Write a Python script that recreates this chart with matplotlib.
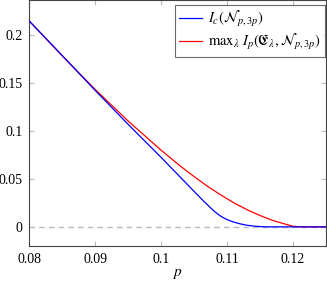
import numpy as np
import matplotlib.pyplot as plt

plt.rcParams['font.family'] = ['Liberation Serif', 'DejaVu Serif']
plt.rcParams['mathtext.fontset'] = 'stix'

# blue curve: coherent information
p_blue = [0.080, 0.085, 0.090, 0.095, 0.100, 0.105, 0.106, 0.1065, 0.107,
          0.1075, 0.108, 0.1085, 0.109, 0.1095, 0.110, 0.111, 0.112, 0.113,
          0.114, 0.115, 0.116, 0.125]
ic_blue = [0.215, 0.179, 0.1425, 0.107, 0.0725, 0.037, 0.030, 0.0265, 0.0232,
           0.0198, 0.0166, 0.0138, 0.0113, 0.0093, 0.0076, 0.0050, 0.0031, 0.0017,
           0.0008, 0.0003, 0.0, 0.0]

# red curve: max over lambda
p_red = [0.080, 0.085, 0.090, 0.095, 0.100, 0.103, 0.105, 0.107, 0.109,
         0.111, 0.113, 0.115, 0.117, 0.119, 0.120, 0.121, 0.125]
ip_red = [0.215, 0.1785, 0.1435, 0.1105, 0.080, 0.063, 0.0525, 0.0425, 0.0335,
          0.0252, 0.018, 0.0118, 0.0065, 0.0025, 0.0006, 0.0, 0.0]

xticks = [0.08, 0.09, 0.1, 0.11, 0.12]
xticklabels = ["0.08", "0.09", "0.1", "0.11", "0.12"]
yticks = [0, 0.05, 0.1, 0.15, 0.2]
yticklabels = ["0", "0.05", "0.1", "0.15", "0.2"]

fig = plt.figure(figsize=(3.27, 2.84), dpi=100)
ax = fig.add_axes([0.0896, 0.1338, 0.9074, 0.8662])

ax.axhline(0, color="#bbbbbb", ls=(0, (4, 3)), lw=1.0, zorder=1)
ax.plot(p_blue, ic_blue, color="blue", lw=0.9,
        label=r"$I_c(\mathcal{N}_{p,3p})$", zorder=3)
ax.plot(p_red, ip_red, color="red", lw=0.9,
        label=r"$\mathrm{max}_\lambda\ I_p(\mathfrak{E}_\lambda,\mathcal{N}_{p,3p})$", zorder=2)

ax.set_xlim(0.08, 0.125)
ax.set_ylim(-0.02, 0.237)
ax.set_xticks(xticks)
ax.set_xticklabels(xticklabels)
ax.set_yticks(yticks)
ax.set_yticklabels(yticklabels)
ax.tick_params(direction="in", top=True, right=True, color="#bbbbbb",
               length=3.5, labelsize=10, pad=5)
for s in ax.spines.values():
    s.set_color("#444444")
    s.set_linewidth(0.8)
ax.set_xlabel(r"$p$", fontsize=11, labelpad=1)

leg = ax.legend(loc="upper right", bbox_to_anchor=(0.997, 0.98), fontsize=10.5,
                frameon=True, fancybox=False, edgecolor="#444444",
                handlelength=1.6, handletextpad=0.4, borderpad=0.3,
                labelspacing=0.2, borderaxespad=0)
leg.get_frame().set_linewidth(0.8)

fig.savefig("out.png", dpi=100)
